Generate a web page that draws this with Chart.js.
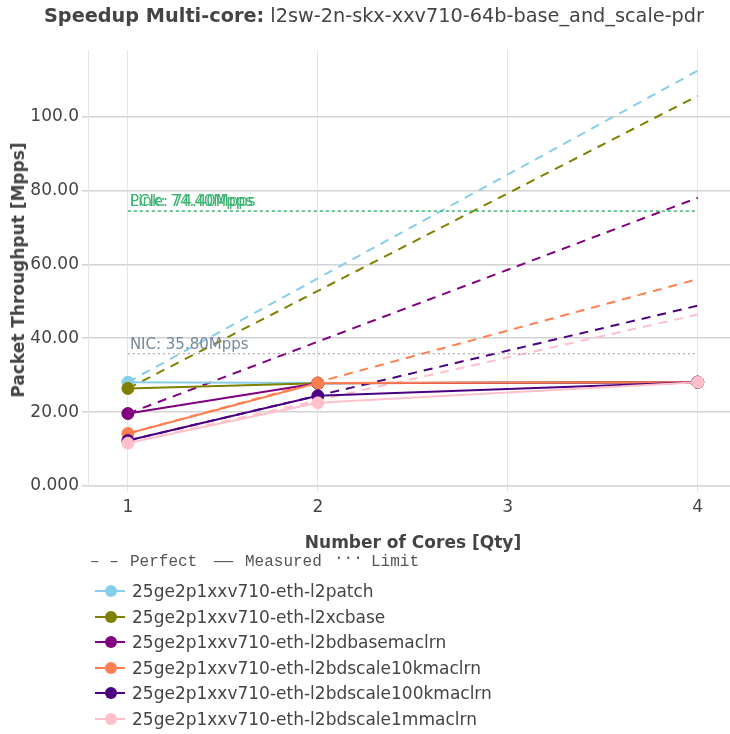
<!DOCTYPE html>
<html>
<head>
<meta charset="utf-8">
<script src="https://cdn.jsdelivr.net/npm/chart.js@4"></script>
<style>
  body { margin: 0; background: #fff; font-family: "DejaVu Sans", sans-serif; color: #444; }
  #wrap { position: relative; width: 730px; height: 734px; overflow: hidden; }
  #chart { position: absolute; left: 0; top: 0; }
  .txt { position: absolute; white-space: nowrap; }
  #title { left: 0; width: 748px; top: 4px; text-align: center; font-size: 19.3px; }
  #ytitle { left: 18px; top: 270px; font-size: 17px; font-weight: bold; transform: translate(-50%, -50%) rotate(-90deg); }
  #xtitle { left: 413px; top: 542px; font-size: 17px; font-weight: bold; transform: translate(-50%, -50%); }
  .mono { font-family: "Liberation Mono", "DejaVu Sans Mono", monospace; font-size: 16px; color: #555; top: 553px; }
  .leg { position: absolute; left: 95px; height: 20px; }
  .leg .ln { position: absolute; left: 0; top: 9px; width: 30px; height: 2px; }
  .leg .mk { position: absolute; left: 10px; top: 4px; width: 12px; height: 12px; border-radius: 50%; }
  .leg .lb { position: absolute; left: 37px; top: 0; font-size: 17px; line-height: 20px; white-space: nowrap; }
</style>
</head>
<body>
<div id="wrap">
  <canvas id="chart" width="737" height="734"></canvas>
  <div id="title" class="txt"><b>Speedup Multi-core:</b> l2sw-2n-skx-xxv710-64b-base_and_scale-pdr</div>
  <div id="ytitle" class="txt">Packet Throughput [Mpps]</div>
  <div id="xtitle" class="txt">Number of Cores [Qty]</div>
  <div class="txt mono" style="left:90px">&#8211; &#8211;</div>
  <div class="txt mono" style="left:130px">Perfect</div>
  <div class="txt mono" style="left:214px">&#8212;&#8212;</div>
  <div class="txt mono" style="left:245px">Measured</div>
  <div class="txt mono" style="left:334px;top:549px">&middot;&middot;&middot;</div>
  <div class="txt mono" style="left:371px">Limit</div>
  <div id="legend"></div>
</div>
<script>
// cores tested
const cores = [1, 2, 4];
const perfectCores = [1, 4];
const limitCores = [1, 4];

// measured throughput [Mpps]
const l2patch = [28.1, 27.9, 28.1];
const l2xcbase = [26.4, 27.8, 28.1];
const l2bdbasemaclrn = [19.6, 27.8, 28.1];
const l2bdscale10kmaclrn = [14.2, 27.9, 28.1];
const l2bdscale100kmaclrn = [12.3, 24.4, 28.1];
const l2bdscale1mmaclrn = [11.6, 22.5, 28.1];

// perfect scaling end points [Mpps]
const l2patchPerfect = [28.1, 112.4];
const l2xcbasePerfect = [26.4, 105.6];
const l2bdbasemaclrnPerfect = [19.6, 78.0];
const l2bdscale10kmaclrnPerfect = [14.2, 56.0];
const l2bdscale100kmaclrnPerfect = [12.3, 48.8];
const l2bdscale1mmaclrnPerfect = [11.6, 46.4];

// limits [Mpps]
const nicLimit = [35.8, 35.8];
const pcieLimit = [74.4, 74.4];
const linkLimit = [74.4, 74.4];

const seriesNames = [
    "25ge2p1xxv710-eth-l2patch",
    "25ge2p1xxv710-eth-l2xcbase",
    "25ge2p1xxv710-eth-l2bdbasemaclrn",
    "25ge2p1xxv710-eth-l2bdscale10kmaclrn",
    "25ge2p1xxv710-eth-l2bdscale100kmaclrn",
    "25ge2p1xxv710-eth-l2bdscale1mmaclrn"
];
const seriesColors = ['#87CEEB', '#808000', '#800080', '#FF7F50', '#4B0082', '#FFC0CB'];
const measuredSeries = [l2patch, l2xcbase, l2bdbasemaclrn, l2bdscale10kmaclrn, l2bdscale100kmaclrn, l2bdscale1mmaclrn];
const perfectSeries = [l2patchPerfect, l2xcbasePerfect, l2bdbasemaclrnPerfect, l2bdscale10kmaclrnPerfect, l2bdscale100kmaclrnPerfect, l2bdscale1mmaclrnPerfect];

const yTickValues = [0, 20, 40, 60, 80, 100];
const yTickLabels = ['0.000', '20.00', '40.00', '60.00', '80.00', '100.0'];

const limitColor = '#3CB371';
const nicColor = '#778899';

function pairs(xs, ys) {
    return xs.map((x, i) => ({ x: x, y: ys[i] }));
}

const datasets = [];

// perfect lines
perfectSeries.forEach((s, i) => {
    datasets.push({
        label: seriesNames[i] + ' perfect',
        data: pairs(perfectCores, s),
        borderColor: seriesColors[i],
        borderWidth: 2,
        borderDash: [9, 7],
        pointRadius: 0,
        fill: false
    });
});

// limit lines
datasets.push({ label: 'NIC', data: pairs(limitCores, nicLimit), borderColor: '#999', borderWidth: 1, borderDash: [2, 3], pointRadius: 0 });
datasets.push({ label: 'PCIe', data: pairs(limitCores, pcieLimit), borderColor: limitColor, borderWidth: 1, borderDash: [3, 3], pointRadius: 0 });
datasets.push({ label: 'Link', data: pairs(limitCores, linkLimit), borderColor: limitColor, borderWidth: 1, borderDash: [3, 3], pointRadius: 0 });

// measured lines
measuredSeries.forEach((s, i) => {
    datasets.push({
        label: seriesNames[i],
        data: pairs(cores, s),
        borderColor: seriesColors[i],
        backgroundColor: seriesColors[i],
        borderWidth: 2,
        pointRadius: 6,
        pointBorderWidth: 1,
        pointBorderColor: seriesColors[i],
        fill: false
    });
});

// later datasets on top, like the original
datasets.forEach((d, i) => { d.order = datasets.length - i; });

// labels for limits
const limitLabels = {
    id: 'limitLabels',
    afterDatasetsDraw(chart) {
        const c = chart.ctx;
        const xs = chart.scales.x;
        const ys = chart.scales.y;
        const x0 = xs.getPixelForValue(limitCores[0]) + 2;
        c.save();
        c.font = '15px "DejaVu Sans", sans-serif';
        c.textAlign = 'left';
        c.textBaseline = 'alphabetic';
        c.fillStyle = nicColor;
        c.fillText('NIC: 35.80Mpps', x0, ys.getPixelForValue(nicLimit[0]) - 5);
        c.fillStyle = limitColor;
        c.fillText('PCIe: 74.40Mpps', x0, ys.getPixelForValue(pcieLimit[0]) - 5);
        c.fillText('Link: 74.40Mpps', x0, ys.getPixelForValue(linkLimit[0]) - 5);
        c.restore();
    }
};

new Chart(document.getElementById('chart').getContext('2d'), {
    type: 'line',
    data: { datasets: datasets },
    plugins: [limitLabels],
    options: {
        responsive: false,
        animation: false,
        layout: { padding: { top: 50, left: 0, right: 0, bottom: 0 } },
        plugins: {
            legend: { display: false },
            title: { display: false },
            tooltip: { enabled: false }
        },
        scales: {
            x: {
                type: 'linear',
                min: 0.79,
                max: 4.17,
                afterFit: s => { s.height = 248; },
                grid: { color: '#e6e6e6', lineWidth: 1, tickLength: 6 },
                border: { color: '#d8d8d8', width: 1.5 },
                ticks: {
                    stepSize: 1,
                    includeBounds: false,
                    padding: 5,
                    color: '#444',
                    font: { family: 'DejaVu Sans', size: 17 },
                    callback: v => (Number.isInteger(v) ? String(v) : '')
                }
            },
            y: {
                type: 'linear',
                min: 0,
                max: 118,
                afterFit: s => { s.width = 88; },
                grid: { color: '#d3d3d3', lineWidth: 1.5, tickLength: 6 },
                border: { color: '#e6e6e6', width: 1 },
                ticks: {
                    stepSize: 20,
                    includeBounds: false,
                    padding: 3,
                    color: '#444',
                    font: { family: 'DejaVu Sans', size: 17 },
                    callback: v => {
                        const i = yTickValues.indexOf(v);
                        return i >= 0 ? yTickLabels[i] : '';
                    }
                }
            }
        }
    }
});

// legend below the plot
const legend = document.getElementById('legend');
seriesNames.forEach((name, i) => {
    const row = document.createElement('div');
    row.className = 'leg';
    row.style.top = (581 + i * 25.5) + 'px';
    row.innerHTML = '<div class="ln" style="background:' + seriesColors[i] + '"></div>' +
        '<div class="mk" style="background:' + seriesColors[i] + '"></div>' +
        '<div class="lb">' + name + '</div>';
    legend.appendChild(row);
});
</script>
</body>
</html>
